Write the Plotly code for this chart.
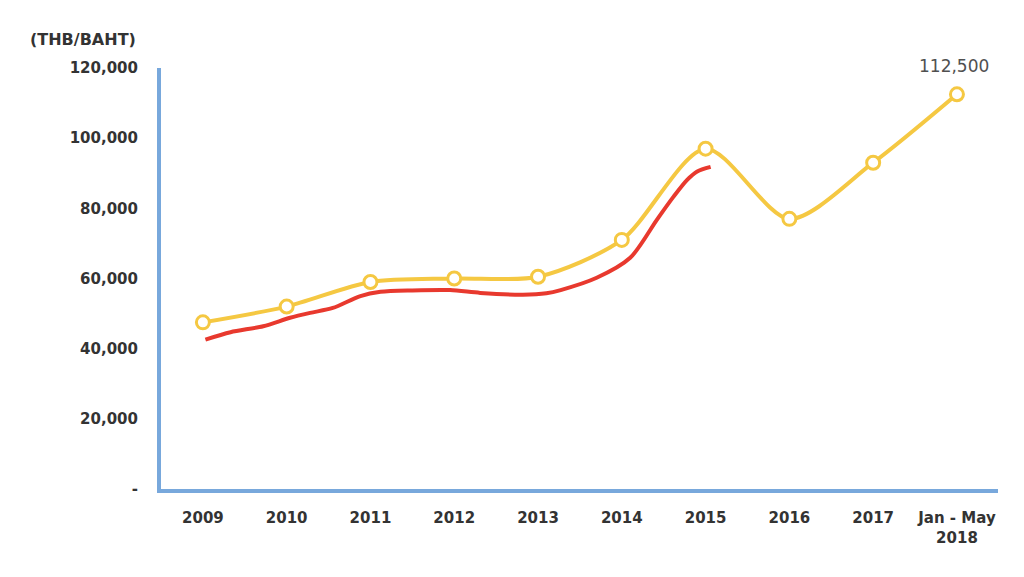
import plotly.graph_objects as go

# ---- data ----
years = [2009, 2010, 2011, 2012, 2013, 2014, 2015, 2016, 2017, 2018]
tick_labels = ["2009", "2010", "2011", "2012", "2013", "2014", "2015",
               "2016", "2017", "Jan - May<br>2018"]
price_yellow = [47500, 52000, 59000, 60000, 60500, 71000, 97000, 77000, 93000, 112500]

red_time = [2009.03, 2009.33, 2009.72, 2010.04, 2010.28, 2010.55, 2010.88,
            2011.12, 2011.50, 2011.95, 2012.31, 2012.82, 2013.10, 2013.27,
            2013.70, 2014.10, 2014.42, 2014.62, 2014.78, 2014.90, 2015.06]
price_red = [42600, 44700, 46400, 48800, 50200, 51600, 55000,
             56200, 56600, 56700, 55900, 55400, 55800, 56700,
             60200, 65900, 76800, 83400, 88100, 90500, 91800]

y_ticks = [0, 20000, 40000, 60000, 80000, 100000, 120000]
y_tick_text = ["-", "20,000", "40,000", "60,000", "80,000", "100,000", "120,000"]

YELLOW = "#f5c842"
RED = "#e8392e"
BLUE = "#78a8dc"
TXT = "#333333"

fig = go.Figure()
fig.add_trace(go.Scatter(
    x=red_time, y=price_red, mode="lines",
    line=dict(color=RED, width=4, shape="spline", smoothing=0.8),
    hoverinfo="skip", showlegend=False))
fig.add_trace(go.Scatter(
    x=years, y=price_yellow, mode="lines+markers",
    line=dict(color=YELLOW, width=4, shape="spline", smoothing=0.8),
    marker=dict(symbol="circle", size=13, color="white",
                line=dict(color=YELLOW, width=3)),
    showlegend=False))

fig.add_annotation(x=years[-1], y=price_yellow[-1], text=f"{price_yellow[-1]:,}",
                   showarrow=False, yshift=28, xshift=-3,
                   font=dict(family="DejaVu Sans", size=17, color="#505050"))
fig.add_annotation(xref="paper", yref="paper", x=-0.028, y=1.0, yshift=29,
                   xanchor="right", yanchor="middle", text="(THB/BAHT)",
                   showarrow=False,
                   font=dict(family="DejaVu Sans", size=16, color=TXT, weight="bold"))

fig.update_xaxes(
    range=[2008.50, 2018.49], tickvals=years, ticktext=tick_labels,
    showline=True, linecolor=BLUE, linewidth=4, showgrid=False, zeroline=False,
    ticks="outside", ticklen=12, tickcolor="rgba(0,0,0,0)",
    tickfont=dict(family="DejaVu Sans", size=15, color=TXT, weight="bold"),
    fixedrange=True)
fig.update_yaxes(
    range=[0, 120000], tickvals=y_ticks, ticktext=y_tick_text,
    showline=True, linecolor=BLUE, linewidth=4, showgrid=False, zeroline=False,
    ticks="outside", ticklen=16, tickcolor="rgba(0,0,0,0)",
    tickfont=dict(family="DejaVu Sans", size=15, color=TXT, weight="bold"),
    fixedrange=True)

fig.update_layout(
    width=1024, height=577,
    margin=dict(l=161, r=26, t=68, b=88),
    paper_bgcolor="white", plot_bgcolor="white",
    showlegend=False)

fig.write_html("out.html", config={"displayModeBar": False})
